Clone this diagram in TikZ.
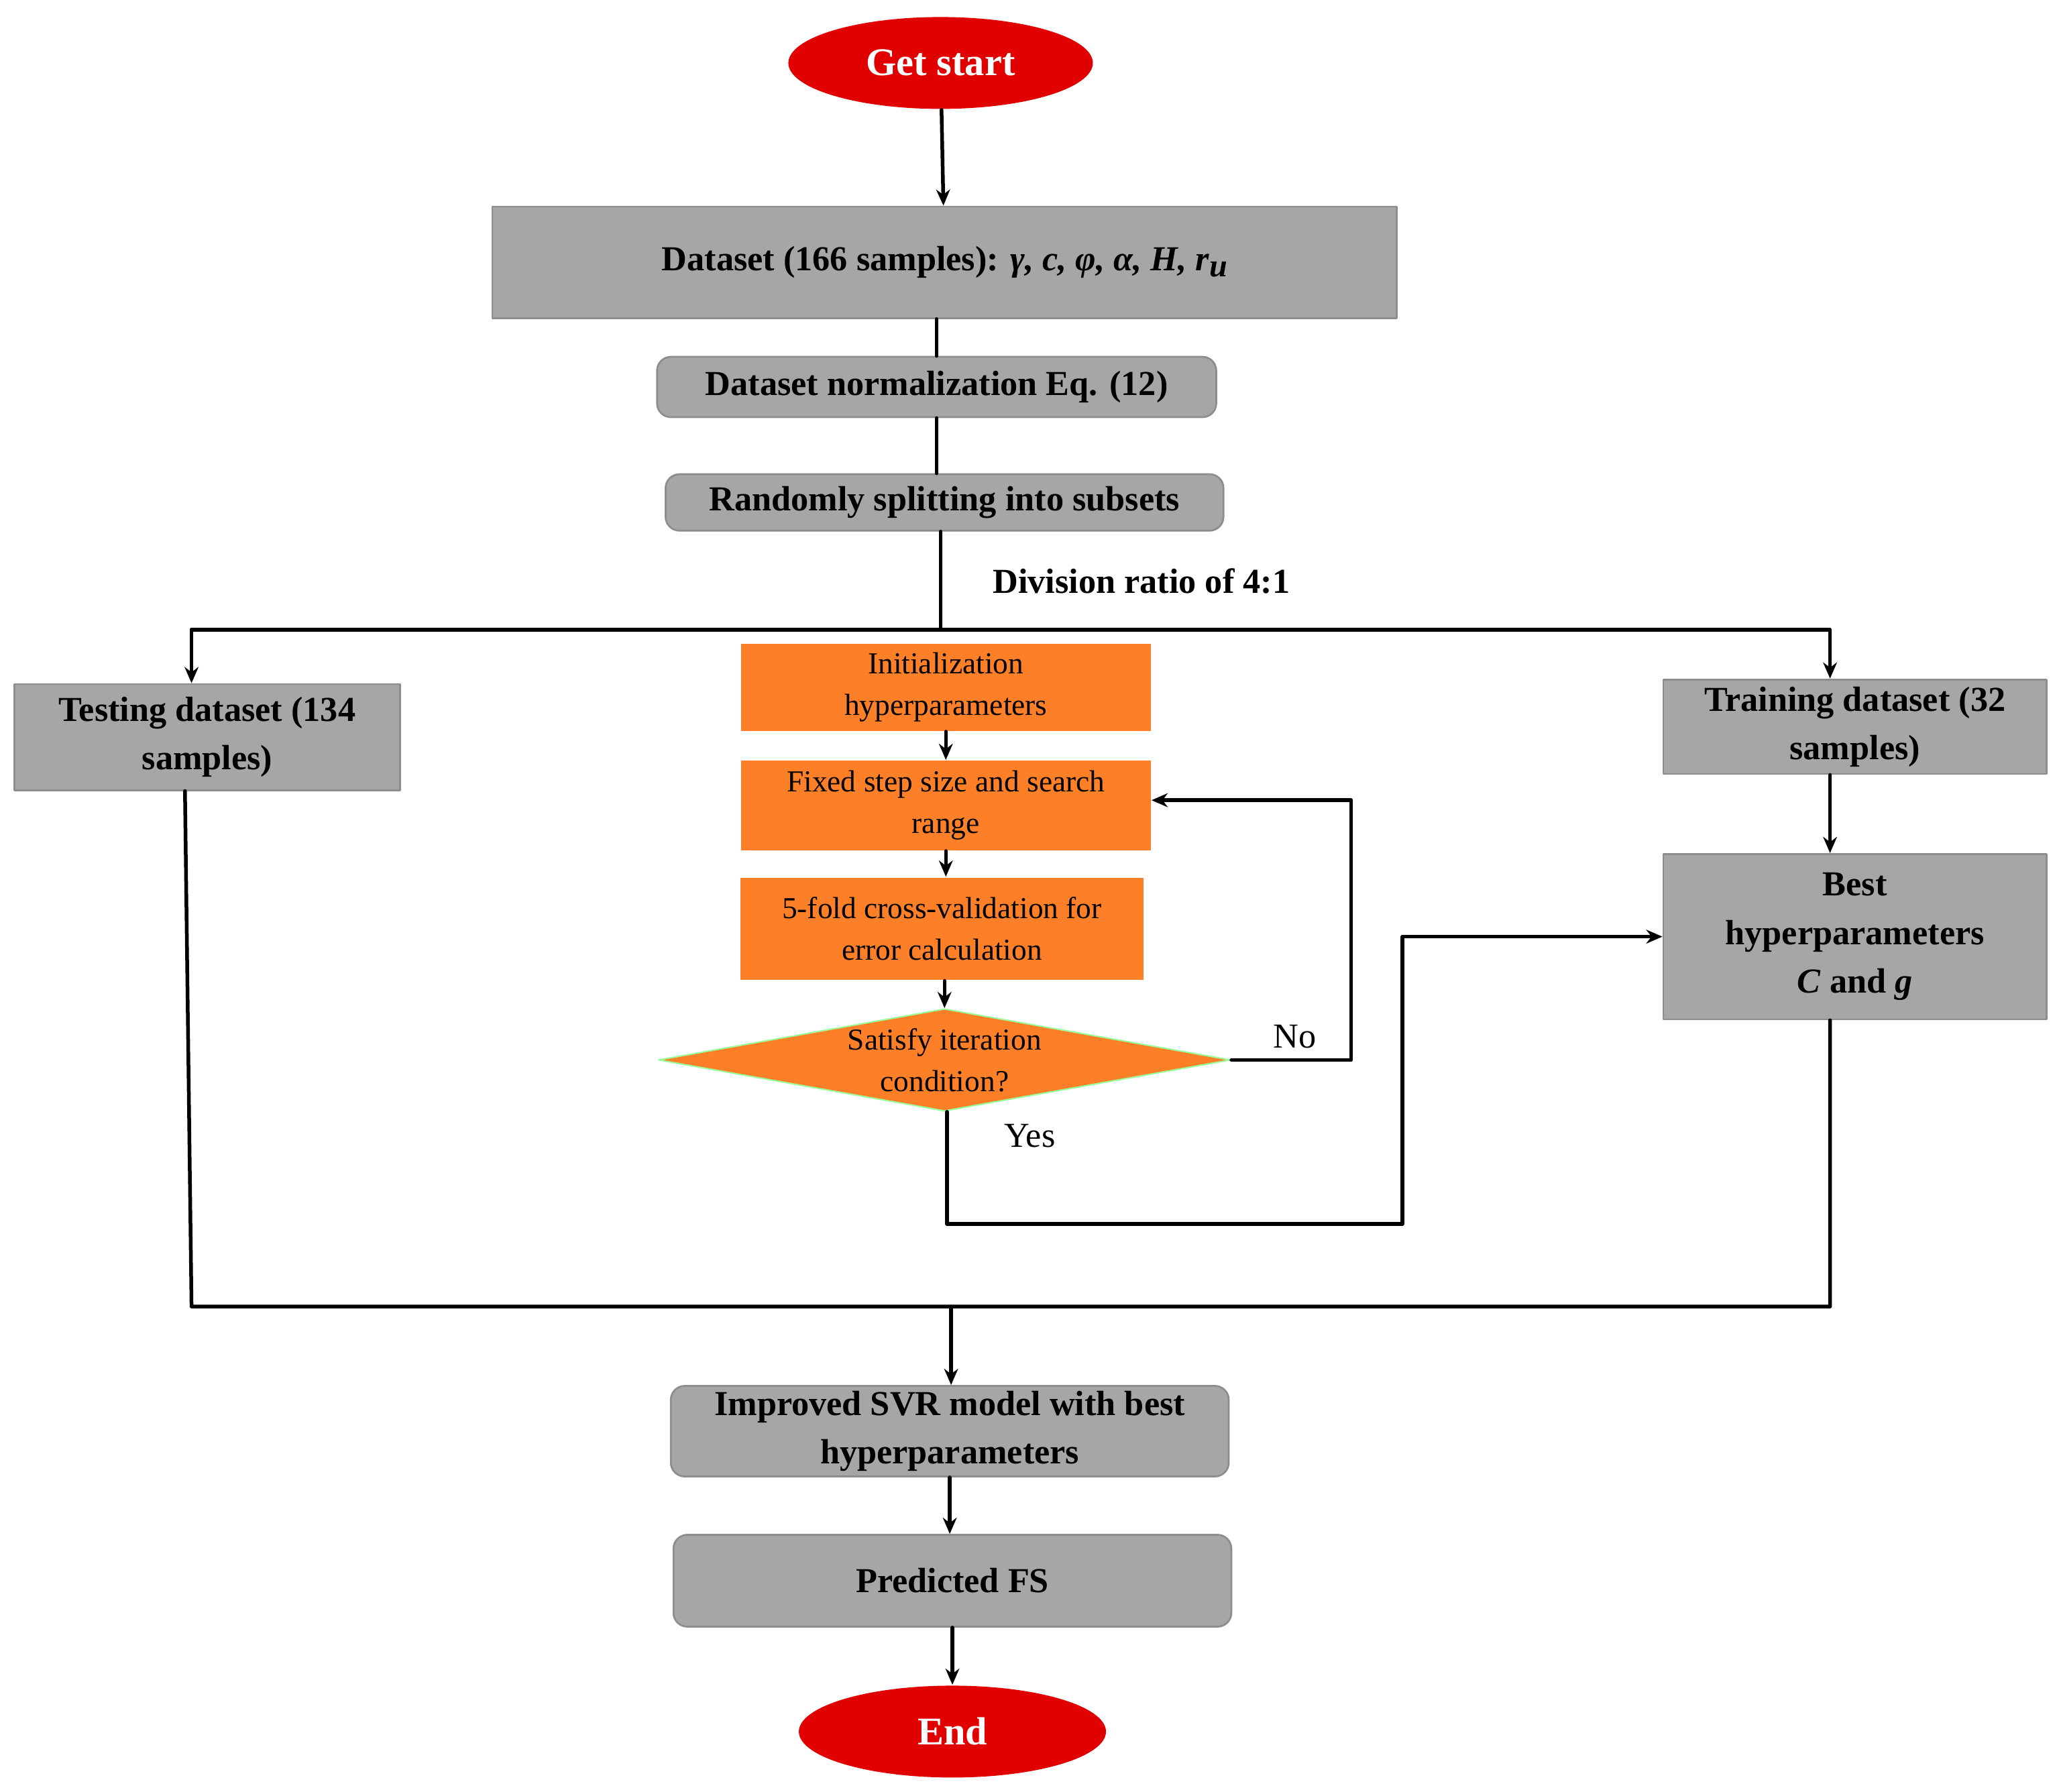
\documentclass[tikz,border=0pt]{standalone}
\usepackage{fontspec}
\setmainfont{Liberation Serif}
\usetikzlibrary{arrows.meta,shapes.geometric}
\definecolor{boxgray}{RGB}{166,166,166}
\definecolor{boxorange}{RGB}{253,128,40}
\definecolor{startred}{RGB}{224,0,0}
\tikzset{
  graybox/.style={draw=boxgray!85!black,line width=0.4pt,fill=boxgray,inner sep=0pt,align=center,font=\fontsize{7.6}{10.5}\selectfont\bfseries},
  orangebox/.style={fill=boxorange,inner sep=0pt,align=center,font=\fontsize{6.6}{9}\selectfont},
  terminal/.style={ellipse,fill=startred,text=white,inner sep=0pt,font=\fontsize{8.5}{10}\selectfont\bfseries},
  flow/.style={line width=0.8pt,-{Stealth[length=3.5pt,width=3pt]}},
  wire/.style={line width=0.8pt},
}
\begin{document}
\begin{tikzpicture}[line cap=round,line join=round,x=0.01cm,y=-0.01cm]
\useasboundingbox (0,0) rectangle (1568,1366);
% terminals
\node[terminal,minimum width=2.32cm,minimum height=0.7cm] (start) at (717,48) {Get start};
\node[terminal,minimum width=2.34cm,minimum height=0.7cm] (end) at (726,1320) {End};
% gray boxes
\node[graybox,minimum width=6.89cm,minimum height=0.85cm] (data) at (720,200) {Dataset (166 samples): \textit{γ, c, φ, α, H, r}\raisebox{-0.35ex}{\scriptsize\textit{u}}};
\node[graybox,rounded corners=3pt,minimum width=4.26cm,minimum height=0.46cm] (norm) at (714,295) {Dataset normalization Eq. (12)};
\node[graybox,rounded corners=3pt,minimum width=4.25cm,minimum height=0.43cm] (split) at (720,383) {Randomly splitting into subsets};
\node[graybox,minimum width=2.94cm,minimum height=0.81cm] (test) at (158,562) {Testing dataset (134\\samples)};
\node[graybox,minimum width=2.92cm,minimum height=0.72cm] (train) at (1414,554) {Training dataset (32\\samples)};
\node[graybox,minimum width=2.92cm,minimum height=1.26cm] (best) at (1414,714) {Best\\hyperparameters\\\textit{C} and \textit{g}};
\node[graybox,rounded corners=3pt,minimum width=4.25cm,minimum height=0.69cm] (svr) at (724,1091) {Improved SVR model with best\\hyperparameters};
\node[graybox,rounded corners=3pt,minimum width=4.25cm,minimum height=0.7cm] (pred) at (726,1205) {Predicted FS};
% orange boxes
\node[orangebox,minimum width=3.12cm,minimum height=0.66cm] (init) at (721,524) {Initialization\\hyperparameters};
\node[orangebox,minimum width=3.12cm,minimum height=0.68cm] (step) at (721,614) {Fixed step size and search\\range};
\node[orangebox,minimum width=3.07cm,minimum height=0.78cm] (cv) at (718,708) {5-fold cross-validation for\\error calculation};
\node[orangebox,diamond,aspect=5.6,minimum width=4.36cm,minimum height=0.78cm,draw=green!40,line width=0.3pt] (cond) at (720,808) {Satisfy iteration\\condition?};
% helper points
\coordinate (split0) at (717,480);
\coordinate (testT) at (146,480);
\coordinate (trainT) at (1395,480);
\coordinate (noR) at (1030,808);
\coordinate (noU) at (1030,610);
\coordinate (yesD) at (722,933);
\coordinate (yesR) at (1069,933);
\coordinate (yesU) at (1069,714);
\coordinate (joinL) at (146,996);
\coordinate (joinR) at (1395,996);
\coordinate (join0) at (725,996);
% connectors
\draw[flow] (start) -- (data);
\draw[wire] (data.south -| norm.north) -- (norm.north);
\draw[wire] (norm.south) -- (norm.south |- split.north);
\draw[wire] (split.south -| split0) -- (split0);
\draw[flow] (testT) -- (trainT |- testT) -- (trainT) -- (train.north -| trainT);
\draw[flow] (split0) -- (testT) -- (test.north -| testT);
\draw[flow] (train.south -| trainT) -- (best.north -| trainT);
\draw[flow] (init) -- (step);
\draw[flow] (step) -- (step |- cv.north);
\draw[flow] (cv.south -| cond) -- (cond.north);
\draw[flow] (cond.east) -- (noR) -- (noU) -- (noU -| step.east);
\draw[flow] (cond.south -| yesD) -- (yesD) -- (yesR) -- (yesU) -- (best.west);
\draw[wire] (141,603) -- (joinL) -- (joinR) -- (best.south -| joinR);
\draw[flow] (join0) -- (svr.north -| join0);
\draw[flow] (svr) -- (pred.north -| svr);
\draw[flow] (pred) -- (end);
% labels
\node[font=\fontsize{7.6}{9}\selectfont\bfseries] (ratio) at (870,443) {Division ratio of 4:1};
\node[font=\fontsize{7.6}{9}\selectfont] (no) at (987,790) {No};
\node[font=\fontsize{7.6}{9}\selectfont] (yes) at (785,866) {Yes};
\end{tikzpicture}
\end{document}
